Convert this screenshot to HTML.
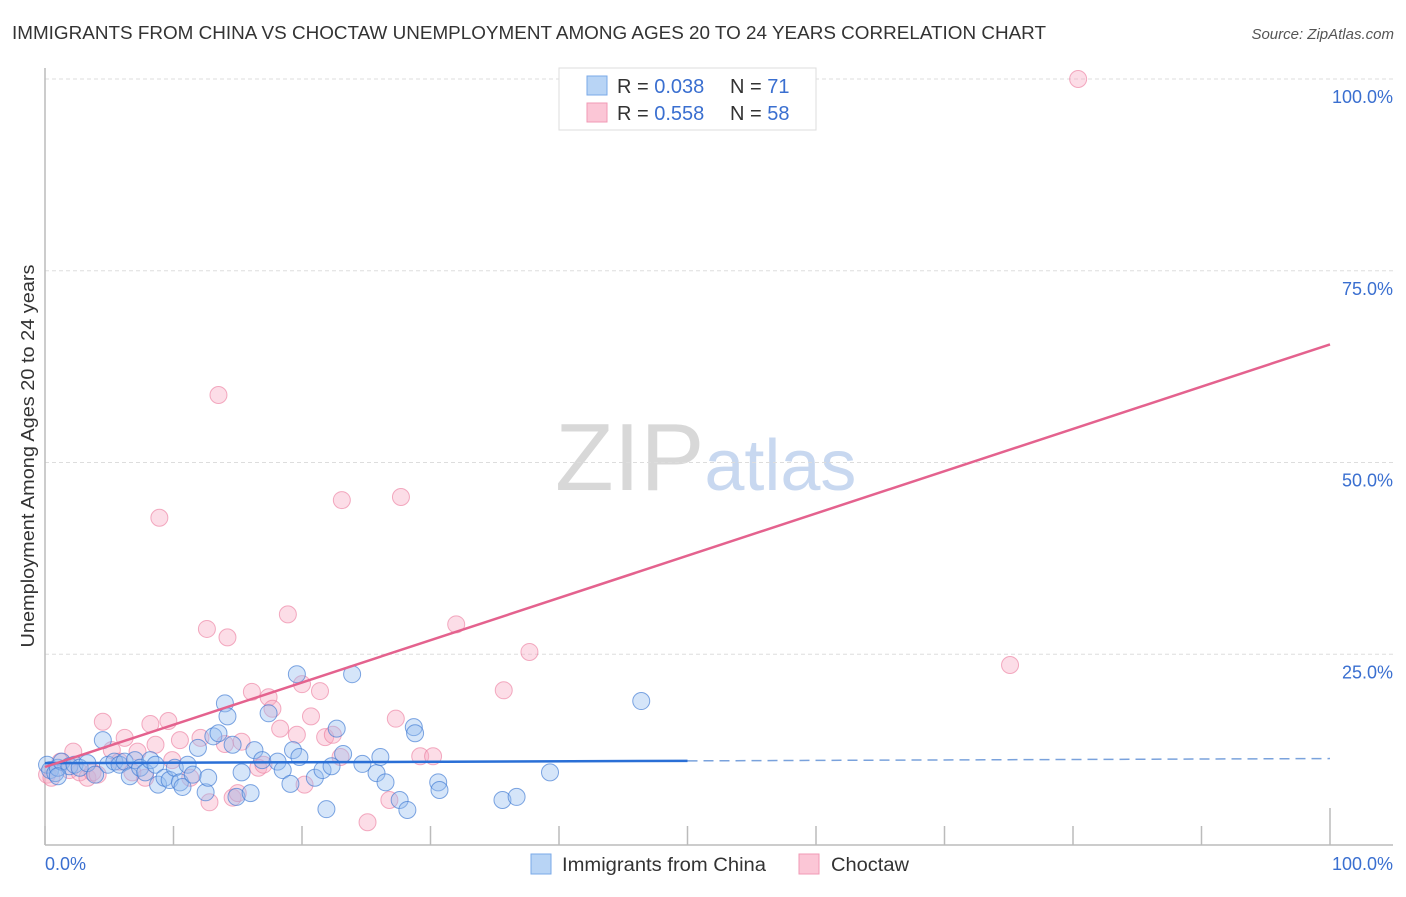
<!DOCTYPE html>
<html><head><meta charset="utf-8"><style>
body{margin:0;background:#fff;font-family:"Liberation Sans",sans-serif}
svg text{font-family:"Liberation Sans",sans-serif}
</style></head><body>
<svg width="1406" height="892" viewBox="0 0 1406 892" xmlns="http://www.w3.org/2000/svg" id="chart">
<text x="12" y="39" font-size="18" fill="#333" textLength="1034" lengthAdjust="spacingAndGlyphs">IMMIGRANTS FROM CHINA VS CHOCTAW UNEMPLOYMENT AMONG AGES 20 TO 24 YEARS CORRELATION CHART</text>
<text x="1394" y="39" font-size="15" fill="#555" text-anchor="end" font-style="italic">Source: ZipAtlas.com</text>
<text x="555" y="490" font-size="96" fill="#ddd" font-family="Liberation Serif"><tspan fill="#d8d8d8">ZIP</tspan><tspan fill="#c8d8f0" font-family="Liberation Sans" font-size="72">atlas</tspan></text>
<text transform="translate(34,456) rotate(-90)" font-size="18" fill="#333" text-anchor="middle" textLength="383" lengthAdjust="spacingAndGlyphs">Unemployment Among Ages 20 to 24 years</text>
<g id="grid"></g><g id="axes"></g><g id="marks"></g><g id="lines"></g>
<g>
<rect x="559" y="68" width="257" height="62" fill="#fff" stroke="#ddd"/>
<rect x="587" y="76" width="20" height="19" fill="#b8d4f5" stroke="#7aaae8"/>
<rect x="587" y="103" width="20" height="19" fill="#fbc6d6" stroke="#f09ab5"/>
<text x="617" y="93" font-size="20" fill="#333">R = <tspan fill="#3a6fd0">0.038</tspan></text>
<text x="730" y="93" font-size="20" fill="#333">N = <tspan fill="#3a6fd0"> 71</tspan></text>
<text x="617" y="120" font-size="20" fill="#333">R = <tspan fill="#3a6fd0">0.558</tspan></text>
<text x="730" y="120" font-size="20" fill="#333">N = <tspan fill="#3a6fd0">58</tspan></text>
</g>
<g>
<rect x="531" y="854" width="20" height="20" fill="#b8d4f5" stroke="#7aaae8"/>
<text x="562" y="871" font-size="19" fill="#333" textLength="204" lengthAdjust="spacingAndGlyphs">Immigrants from China</text>
<rect x="799" y="854" width="20" height="20" fill="#fbc6d6" stroke="#f09ab5"/>
<text x="831" y="871" font-size="19" fill="#333" textLength="78" lengthAdjust="spacingAndGlyphs">Choctaw</text>
</g>
</svg>
<script>
const blueX=[0.16,0.4,0.8,1.0,1.3,1.9,2.3,2.7,3.3,3.9,4.5,4.9,5.4,5.8,6.2,6.6,7.0,7.4,7.8,8.2,8.6,8.8,9.3,9.7,10.1,10.5,10.7,11.1,11.5,11.9,12.5,12.7,13.1,13.5,14.0,14.2,14.6,14.9,15.3,16.0,16.3,16.9,17.4,18.1,18.5,19.1,19.3,19.6,19.8,21.0,21.6,21.9,22.3,22.7,23.2,23.9,24.7,25.8,26.1,26.5,27.6,28.2,28.7,28.8,30.6,30.7,35.6,36.7,39.3,46.4,1.0];
const blueY=[10.6,9.9,9.5,10.2,11.0,10.4,10.6,10.2,10.8,9.3,13.8,10.6,11.0,10.6,11.0,9.1,11.2,10.2,9.6,11.2,10.6,8.0,8.9,8.6,10.2,8.3,7.7,10.6,9.3,12.8,7.0,8.9,14.3,14.7,18.6,16.9,13.2,6.4,9.6,6.9,12.5,11.2,17.3,11.0,9.9,8.1,12.5,22.4,11.6,8.9,9.9,4.8,10.4,15.3,12.0,22.4,10.7,9.5,11.6,8.3,6.0,4.7,15.5,14.7,8.3,7.3,6.0,6.4,9.6,18.9,9.1];
const pinkX=[0.16,0.5,1.2,1.9,2.2,2.7,3.3,3.7,4.1,4.5,5.2,5.8,6.2,6.8,7.2,7.8,8.2,8.6,8.9,9.6,9.9,10.5,11.3,12.1,12.6,12.8,13.5,14.0,14.2,14.6,15.0,15.3,16.1,16.6,17.0,17.4,17.7,18.3,18.9,19.6,20.0,20.2,20.7,21.4,21.8,22.4,23.1,23.0,25.1,26.8,27.3,27.7,29.2,30.2,32.0,35.7,37.7,75.1,80.4];
const pinkY=[9.3,8.9,11.0,9.9,12.3,9.6,8.9,9.6,9.3,16.2,12.5,11.0,14.1,9.6,12.3,8.9,15.9,13.2,42.8,16.3,11.2,13.8,8.9,14.1,28.3,5.7,58.8,13.3,27.2,6.3,6.9,13.6,20.1,10.2,10.6,19.4,17.9,15.3,30.2,14.5,21.1,8.0,16.9,20.2,14.2,14.5,45.1,11.6,3.1,6.0,16.6,45.5,11.7,11.7,28.9,20.3,25.3,23.6,100];
const blueTrend=[10.8,11.4];
const pinkTrend=[10.3,65.4];
const yTicks=[25,50,75,100];
const yTickLabels=["25.0%","50.0%","75.0%","100.0%"];
const xTicks=[0,10,20,30,40,50,60,70,80,90,100];
const NS="http://www.w3.org/2000/svg";
const X=v=>45+v*12.85, Y=v=>846-v*7.67;
function mk(p,t,a){const e=document.createElementNS(NS,t);for(const k in a)e.setAttribute(k,a[k]);document.getElementById(p).appendChild(e);return e;}
yTicks.forEach((t,i)=>{
 const g=mk('grid','line',{x1:45,x2:1393,y1:Y(t),y2:Y(t),stroke:'#ddd','stroke-dasharray':'4,3'});
 
 
 const l=mk('axes','text',{x:1393,y:Y(t)+24,'font-size':18,fill:'#3a6fd0','text-anchor':'end'});
 
 
 l.textContent=yTickLabels[i];
});
const ax=mk('axes','line',{x1:45,x2:1393,y1:845,y2:845,stroke:'#bbb','stroke-width':1.5});


const ay=mk('axes','line',{x1:45,x2:45,y1:68,y2:845,stroke:'#bbb','stroke-width':1.5});


xTicks.forEach(t=>{
 const k=mk('axes','line',{x1:X(t),x2:X(t),y1:(t==100?808:826),y2:845,stroke:'#bbb','stroke-width':1.5});
 
 
});
const xl0=mk('axes','text',{x:45,y:870,'font-size':18,fill:'#3a6fd0'});


xl0.textContent='0.0%';
const xl1=mk('axes','text',{x:1393,y:870,'font-size':18,fill:'#3a6fd0','text-anchor':'end'});


xl1.textContent='100.0%';
pinkX.forEach((x,i)=>{
 const c=mk('marks','circle',{cx:X(x),cy:Y(pinkY[i]),r:8.5,fill:'rgba(248,170,195,0.4)',stroke:'rgba(235,120,155,0.6)','stroke-width':1});
 
 
});
blueX.forEach((x,i)=>{
 const c=mk('marks','circle',{cx:X(x),cy:Y(blueY[i]),r:8.5,fill:'rgba(150,190,240,0.4)',stroke:'rgba(60,120,210,0.65)','stroke-width':1});
 
 
});
const bl=v=>blueTrend[0]+(blueTrend[1]-blueTrend[0])*v/100;
const b1=mk('lines','line',{x1:X(0),y1:Y(bl(0)),x2:X(50),y2:Y(bl(50)),stroke:'#2a6fd6','stroke-width':2.5});


const b2=mk('lines','line',{x1:X(50),y1:Y(bl(50)),x2:X(100),y2:Y(bl(100)),stroke:'#7aa2dc','stroke-width':1.5,'stroke-dasharray':'10,6'});


const p1=mk('lines','line',{x1:X(0),y1:Y(pinkTrend[0]),x2:X(100),y2:Y(pinkTrend[1]),stroke:'#e4628e','stroke-width':2.5});


</script>
</body></html>
